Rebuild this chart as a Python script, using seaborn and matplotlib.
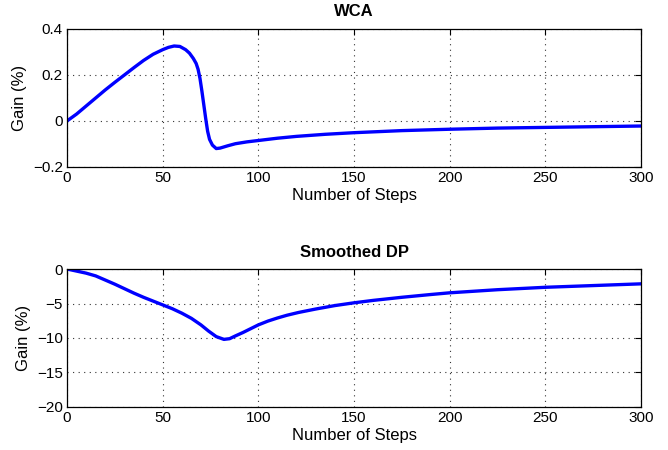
import matplotlib
matplotlib.use("Agg")
import matplotlib.pyplot as plt
import seaborn as sns
import pandas as pd

# WCA gain curve
wca_steps = [0, 5, 10, 15, 20, 25, 30, 35, 40, 45, 50, 53, 56, 59, 62, 64, 66, 67.5,
             68.5, 69.5, 70.5, 71.5, 72.5, 73.5, 74.5, 76, 78, 80, 84, 88, 94, 100,
             110, 120, 135, 150, 175, 200, 225, 250, 275, 300]
wca_gain = [0, 0.03, 0.065, 0.1, 0.135, 0.168, 0.2, 0.232, 0.263, 0.29, 0.31, 0.32,
            0.326, 0.324, 0.31, 0.295, 0.272, 0.25, 0.225, 0.185, 0.13, 0.07, 0.01,
            -0.045, -0.08, -0.105, -0.12, -0.118, -0.108, -0.099, -0.091, -0.085,
            -0.075, -0.067, -0.058, -0.051, -0.042, -0.036, -0.031, -0.028, -0.025,
            -0.022]

# Smoothed DP gain curve
dp_steps = [0, 5, 10, 15, 20, 25, 30, 35, 40, 45, 50, 55, 60, 65, 70, 74, 78, 82, 85,
            88, 92, 96, 100, 105, 110, 115, 121, 130, 140, 150, 160, 175, 190, 200,
            225, 250, 275, 300]
dp_gain = [0, -0.3, -0.6, -1.0, -1.6, -2.2, -2.85, -3.5, -4.1, -4.65, -5.2, -5.75,
           -6.4, -7.15, -8.1, -9.0, -9.8, -10.2, -10.1, -9.7, -9.2, -8.65, -8.1, -7.55,
           -7.1, -6.7, -6.3, -5.8, -5.3, -4.9, -4.55, -4.1, -3.7, -3.45, -3.0, -2.65,
           -2.4, -2.15]

x_ticks = [0, 50, 100, 150, 200, 250, 300]
wca_yticks = [-0.2, 0, 0.2, 0.4]
wca_ylabels = ["\u22120.2", "0", "0.2", "0.4"]
dp_yticks = [-20, -15, -10, -5, 0]
dp_ylabels = ["\u221220", "\u221215", "\u221210", "\u22125", "0"]

sns.set_style("white")
plt.rcParams["font.family"] = ["Liberation Sans", "DejaVu Sans"]
plt.rcParams["text.color"] = "black"
plt.rcParams["axes.labelcolor"] = "black"

fig = plt.figure(figsize=(6.68, 4.5), dpi=100)
ax1 = fig.add_axes([0.1003, 0.629, 0.8593, 0.3066])
ax2 = fig.add_axes([0.1003, 0.0956, 0.8593, 0.3066])

panels = [
    (ax1, wca_steps, wca_gain, "WCA", wca_yticks, wca_ylabels, (-0.2, 0.4)),
    (ax2, dp_steps, dp_gain, "Smoothed DP", dp_yticks, dp_ylabels, (-20, 0)),
]

for ax, xs, ys, title, yt, yl, ylim in panels:
    df = pd.DataFrame({"step": xs, "gain": ys})
    sns.lineplot(data=df, x="step", y="gain", ax=ax, color="#0000ff",
                 linewidth=2.4, sort=False)
    ax.lines[-1].set_solid_joinstyle("round")
    ax.set_xlim(0, 300)
    ax.set_ylim(*ylim)
    ax.set_xticks(x_ticks)
    ax.set_xticklabels([str(t) for t in x_ticks])
    ax.set_yticks(yt)
    ax.set_yticklabels(yl)
    ax.grid(True, linestyle=(0, (1, 4)), color="#333333", linewidth=0.8)
    ax.tick_params(direction="in", top=True, right=True, length=4, width=0.8,
                   labelsize=11, pad=3, colors="black")
    for s in ax.spines.values():
        s.set_visible(True)
        s.set_color("black")
        s.set_linewidth(0.9)
    ax.set_title(title, fontsize=12, fontweight="bold", pad=9, color="black")
    ax.set_xlabel("Number of Steps", fontsize=12, labelpad=2, color="black")
    ax.set_ylabel("Gain (%)", fontsize=12, labelpad=4, color="black")

fig.savefig("out.png", dpi=100, facecolor="white")
